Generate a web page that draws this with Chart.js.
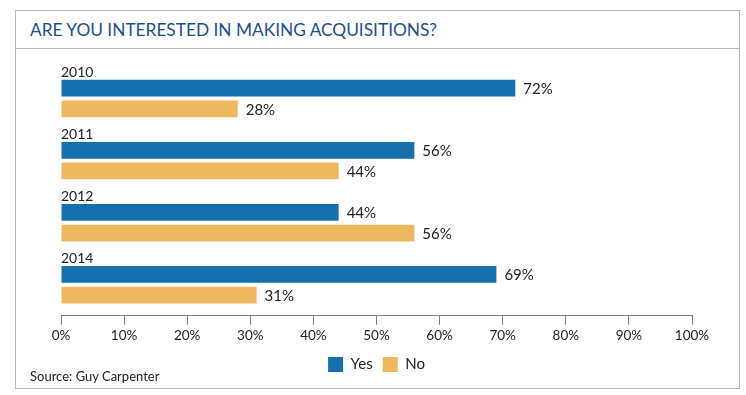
<!DOCTYPE html>
<html lang="en">
<head>
  <meta charset="UTF-8" />
  <title>Are you interested in making acquisitions?</title>
  <script src="https://cdn.jsdelivr.net/npm/chart.js@4.4.0/dist/chart.umd.min.js"></script>
  <style>
    html, body { margin: 0; padding: 0; background: #fff; }
    body { width: 746px; height: 395px; position: relative; overflow: hidden; font-family: Lato, "Noto Sans", sans-serif; }
    .frame {
      position: absolute; left: 15px; top: 10px; width: 723px; height: 377px;
      border: 1px solid #b8b8b8;
    }
    .title {
      position: absolute; left: 15px; top: 10px; width: 725px; height: 38px;
      border-bottom: 1px solid #b8b8b8;
    }
    .title span {
      position: absolute; left: 15px; top: 9px;
      font-size: 17.3px; color: #1d4f8f;
    }
    .source {
      position: absolute; left: 30px; top: 368px;
      font-size: 13px; color: #222;
    }
    canvas { position: absolute; left: 0; top: 0; }
  </style>
</head>
<body>
  <div class="frame"></div>
  <div class="title"><span>ARE YOU INTERESTED IN MAKING ACQUISITIONS?</span></div>
  <canvas id="chart" width="746" height="395"></canvas>
  <div class="source">Source: Guy Carpenter</div>

  <script>
    // --- data ------------------------------------------------------
    const years = ['2010', '2011', '2012', '2014'];
    const yesValues = [72, 56, 44, 69];
    const noValues = [28, 44, 56, 31];
    const tickValues = [0, 10, 20, 30, 40, 50, 60, 70, 80, 90, 100];

    const BLUE = '#1570ad';
    const GOLD = '#edb85e';
    const FONT = 'Lato, "Noto Sans", sans-serif';

    // year labels above each group + value labels at bar ends
    const labelPlugin = {
      id: 'labels',
      afterDatasetsDraw(chart) {
        const ctx = chart.ctx;
        ctx.save();
        ctx.fillStyle = '#222';
        ctx.textAlign = 'left';

        // values
        ctx.font = '15px ' + FONT;
        ctx.textBaseline = 'middle';
        chart.data.datasets.forEach((ds, di) => {
          chart.getDatasetMeta(di).data.forEach((bar, i) => {
            ctx.fillText(ds.data[i] + '%', bar.x + 8, bar.y + 1);
          });
        });

        // year labels
        ctx.font = '14px ' + FONT;
        ctx.textBaseline = 'alphabetic';
        chart.getDatasetMeta(0).data.forEach((bar, i) => {
          ctx.fillText(years[i], chart.chartArea.left, bar.y - bar.height / 2 - 3);
        });
        ctx.restore();
      }
    };

    new Chart(document.getElementById('chart'), {
      type: 'bar',
      data: {
        labels: years,
        datasets: [
          { label: 'Yes', data: yesValues, backgroundColor: BLUE },
          { label: 'No', data: noValues, backgroundColor: GOLD }
        ]
      },
      options: {
        indexAxis: 'y',
        responsive: false,
        animation: false,
        devicePixelRatio: 1,
        categoryPercentage: 42 / 63,
        barPercentage: 17 / 21,
        layout: { padding: { left: 61, right: 54, top: 67.5, bottom: 13 } },
        scales: {
          y: { display: false },
          x: {
            min: 0,
            max: 100,
            afterBuildTicks: (scale) => { scale.ticks = tickValues.map(v => ({ value: v })); },
            border: { display: true, color: '#808080', width: 1 },
            grid: { display: true, drawOnChartArea: false, drawTicks: true, tickLength: 9, color: '#808080' },
            ticks: {
              padding: 3,
              color: '#222',
              font: { family: FONT, size: 13.5 },
              callback: v => v + '%'
            }
          }
        },
        plugins: {
          tooltip: { enabled: false },
          legend: {
            position: 'bottom',
            labels: {
              boxWidth: 15,
              boxHeight: 15,
              padding: 10,
              color: '#222',
              font: { family: FONT, size: 15 }
            }
          }
        }
      },
      plugins: [labelPlugin]
    });
  </script>
</body>
</html>
